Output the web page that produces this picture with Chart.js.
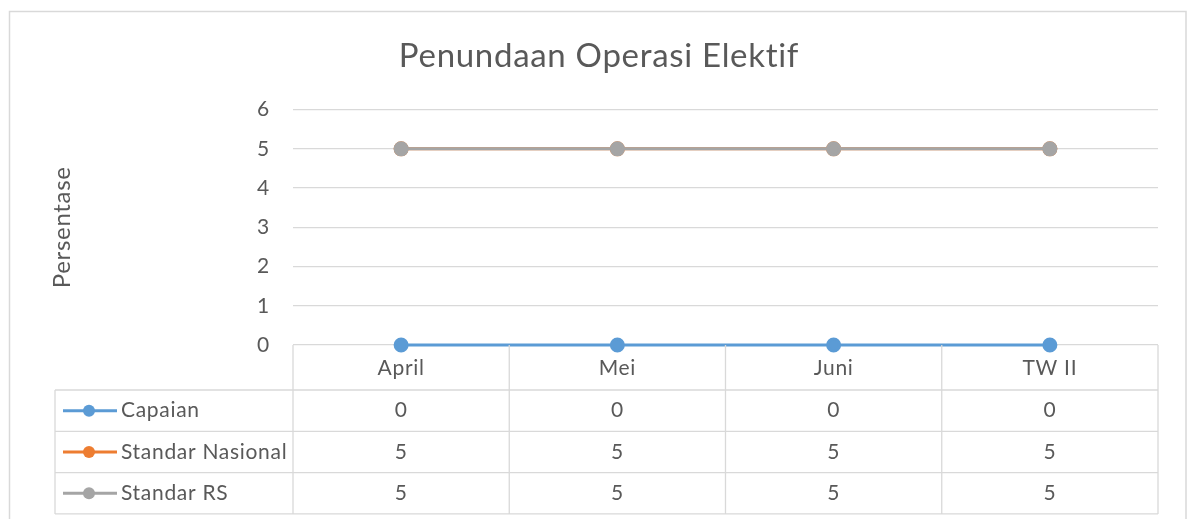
<!DOCTYPE html>
<html>
<head>
<meta charset="utf-8">
<script src="https://cdn.jsdelivr.net/npm/chart.js@4"></script>
<style>
  html, body { margin: 0; padding: 0; background: #fff; }
  #wrap { width: 1187px; height: 519px; }
</style>
</head>
<body>
<div id="wrap"><canvas id="chart" width="1187" height="519"></canvas></div>
<script>
// Data
const categories = ['April', 'Mei', 'Juni', 'TW II'];
const capaian = [0, 0, 0, 0];
const standarNasional = [5, 5, 5, 5];
const standarRS = [5, 5, 5, 5];
const seriesNames = ['Capaian', 'Standar Nasional', 'Standar RS'];
const seriesColors = ['#5b9bd5', '#ed7d31', '#a5a5a5'];
const yMin = 0, yMax = 6, yStep = 1;

const FONT = 'Lato, Carlito, Calibri, sans-serif';
const TEXT = '#595959';
const GRID = '#d9d9d9';
const SPACING = '0.7px';

// the reference text is a bit spread out
const spacingPlugin = {
    id: 'spacing',
    beforeUpdate(chart) { chart.ctx.letterSpacing = SPACING; },
    beforeDraw(chart) { chart.ctx.letterSpacing = SPACING; }
};

// data table + frame under the plot
const tablePlugin = {
    id: 'dataTable',
    afterDraw(chart) {
        const ctx = chart.ctx;
        const x = chart.scales.x;
        const area = chart.chartArea;
        const colW = (area.right - area.left) / categories.length;
        const tableLeft = 55;
        const headerH = 45;
        const rowH = 41.3;
        const top = area.bottom;

        ctx.save();
        // outer frame of the chart
        ctx.strokeStyle = GRID;
        ctx.lineWidth = 1.5;
        ctx.beginPath();
        ctx.moveTo(9.5, 530);
        ctx.lineTo(9.5, 11.5);
        ctx.lineTo(1186, 11.5);
        ctx.lineTo(1186, 530);
        ctx.stroke();

        ctx.lineWidth = 1.3;
        ctx.beginPath();
        const bottom = top + headerH + rowH * seriesNames.length;
        ctx.moveTo(area.right, top);
        ctx.lineTo(area.right, bottom);
        for (let r = 0; r <= seriesNames.length; r++) {
            const y = top + headerH + rowH * r;
            ctx.moveTo(tableLeft, y);
            ctx.lineTo(area.right, y);
        }
        ctx.moveTo(tableLeft, top + headerH);
        ctx.lineTo(tableLeft, bottom);
        for (let i = 0; i < categories.length; i++) {
            const cx = area.left + colW * i;
            ctx.moveTo(cx, top);
            ctx.lineTo(cx, bottom);
        }
        ctx.stroke();

        ctx.fillStyle = TEXT;
        ctx.font = '21px ' + FONT;
        ctx.textAlign = 'center';
        ctx.textBaseline = 'middle';
        categories.forEach((c, i) => {
            ctx.fillText(c, x.getPixelForValue(i), top + 23);
        });

        chart.data.datasets.forEach((ds, r) => {
            const cy = top + headerH + rowH * r + rowH / 2;
            // legend key
            ctx.strokeStyle = ds.borderColor;
            ctx.lineWidth = 3;
            ctx.beginPath();
            ctx.moveTo(63, cy);
            ctx.lineTo(117, cy);
            ctx.stroke();
            ctx.fillStyle = ds.borderColor;
            ctx.beginPath();
            ctx.arc(89, cy, 6, 0, Math.PI * 2);
            ctx.fill();

            ctx.fillStyle = TEXT;
            ctx.textAlign = 'left';
            ctx.fillText(ds.label, 121, cy);
            ctx.textAlign = 'center';
            ds.data.forEach((v, i) => {
                ctx.fillText(String(v), x.getPixelForValue(i), cy);
            });
        });
        ctx.restore();
    }
};

function lineSet(label, data, color, order) {
    return {
        label: label,
        data: data,
        borderColor: color,
        backgroundColor: color,
        borderWidth: 3,
        pointRadius: 6,
        pointHoverRadius: 6,
        pointBackgroundColor: color,
        pointBorderColor: color,
        tension: 0,
        clip: false,
        order: order
    };
}

new Chart(document.getElementById('chart'), {
    type: 'line',
    data: {
        labels: categories,
        datasets: [
            lineSet(seriesNames[0], capaian, seriesColors[0], 2),
            lineSet(seriesNames[1], standarNasional, seriesColors[1], 1),
            lineSet(seriesNames[2], standarRS, seriesColors[2], 0)
        ]
    },
    options: {
        responsive: false,
        animation: false,
        devicePixelRatio: 1,
        layout: { padding: { left: 40, right: 29, top: 0, bottom: 174 } },
        plugins: {
            legend: { display: false },
            tooltip: { enabled: false },
            title: {
                display: true,
                text: 'Penundaan Operasi Elektif',
                color: TEXT,
                font: { family: FONT, size: 33, weight: 'normal' },
                padding: { top: 37, bottom: 33 }
            }
        },
        scales: {
            x: {
                display: false,
                offset: true
            },
            y: {
                min: yMin,
                max: yMax,
                afterFit(s) { s.width = 253; },
                ticks: {
                    stepSize: yStep,
                    color: TEXT,
                    padding: 23,
                    font: { family: FONT, size: 21 }
                },
                border: { display: false },
                grid: { color: GRID, lineWidth: 1.3, drawTicks: false },
                title: {
                    display: true,
                    text: 'Persentase',
                    color: TEXT,
                    font: { family: FONT, size: 24 },
                    padding: { top: 8, bottom: 0 }
                }
            }
        }
    },
    plugins: [spacingPlugin, tablePlugin]
});
</script>
</body>
</html>
